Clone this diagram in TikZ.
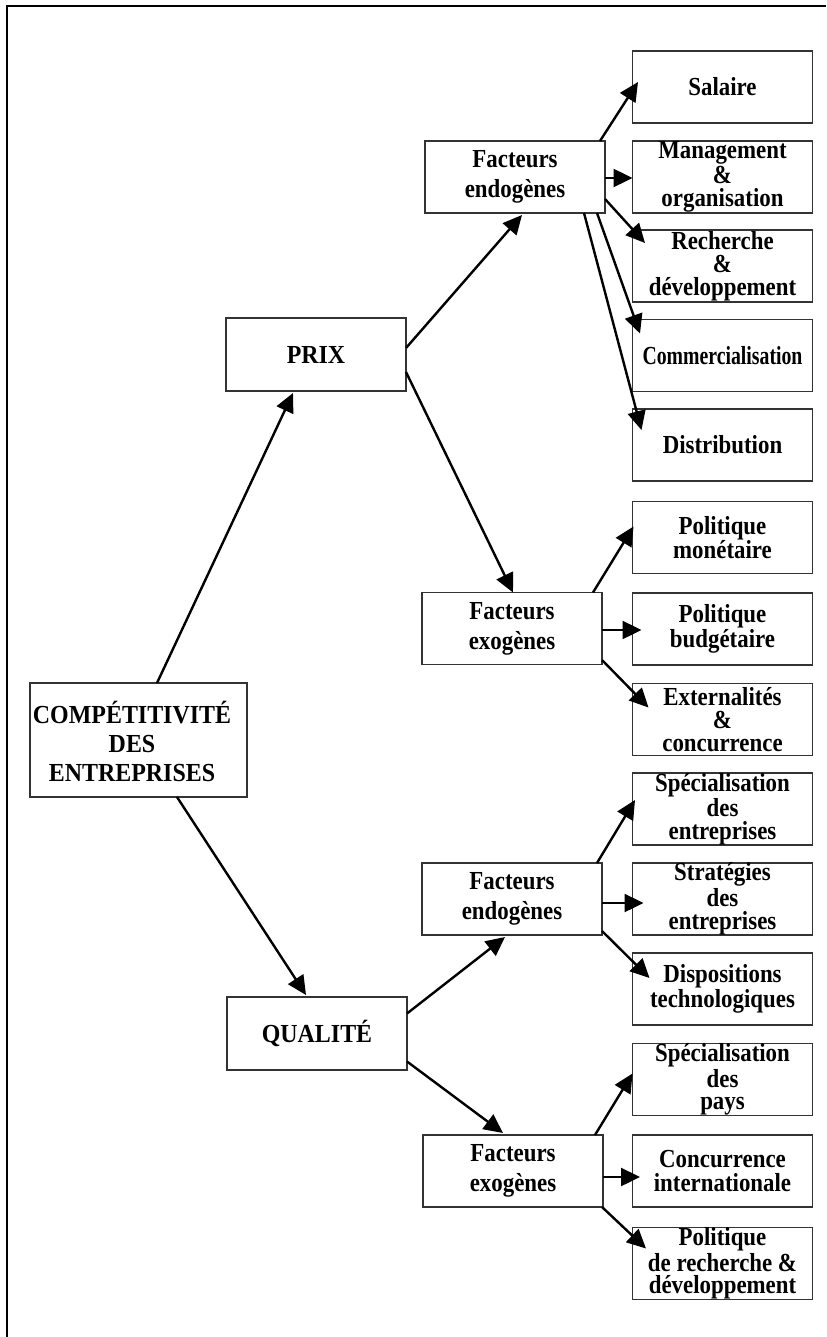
\documentclass[tikz,border=0pt]{standalone}
\usepackage{fontspec}
\setmainfont{Liberation Serif}
\newfontfamily\condf[FakeStretch=0.88]{Liberation Serif}
\newfontfamily\narrowf[FakeStretch=0.76]{Liberation Serif}
\newfontfamily\midf[FakeStretch=0.92]{Liberation Serif}
\usetikzlibrary{arrows.meta,calc}
\begin{document}
\begin{tikzpicture}[x=0.5pt,y=-0.5pt,
  box/.style={draw=black!80, line width=0.7pt, minimum width=90pt, minimum height=36pt,
    inner sep=0pt, outer sep=0pt, align=center,
    font=\condf\fontsize{13}{11.4}\selectfont\bfseries},
  two/.style={font=\condf\fontsize{13}{12.2}\selectfont\bfseries},
  fac/.style={font=\condf\fontsize{13}{15}\selectfont\bfseries},
  big/.style={font=\midf\fontsize{13}{14}\selectfont\bfseries},
  comptext/.style={align=center, inner sep=0pt, font=\midf\fontsize{13}{14.5}\selectfont\bfseries},
  arr/.style={line width=1.2pt, -{Triangle[length=9.5pt,width=9pt]}}]
\useasboundingbox (0,0) rectangle (826,1337);
\draw[line width=0.7pt] (7,1337) -- (7,6) -- (826,6);

% left column
\node[box, minimum width=108.5pt, minimum height=57pt] (comp) at (138.5,740) {};
\node[comptext] (compt) at (132,741) {COMPÉTITIVITÉ\\DES\\ENTREPRISES};
\node[box, big, minimum height=36.5pt] (prix) at (316,354.5) {PRIX};
\node[box, big, minimum height=36.5pt] (qual) at (317,1033.5) {QUALITÉ};

% middle column
\node[box, fac] (fen1) at (515,177) {Facteurs\\endogènes};
\node[box, fac] (fex1) at (512,628.5) {Facteurs\\exogènes};
\node[box, fac] (fen2) at (512,899) {Facteurs\\endogènes};
\node[box, fac] (fex2) at (513,1171) {Facteurs\\exogènes};

% right column
\node[box] (sal) at (722.5,87) {Salaire};
\node[box] (man) at (722.5,177) {Management\\\&\\organisation};
\node[box] (rec) at (722.5,266) {Recherche\\\&\\développement};
\node[box, font=\narrowf\fontsize{13}{11}\selectfont\bfseries] (comm) at (722.5,355.5) {Commercialisation};
\node[box] (dist) at (722.5,445) {Distribution};
\node[box, two] (pmon) at (722.5,537.5) {Politique\\monétaire};
\node[box, two] (pbud) at (722.5,629) {Politique\\budgétaire};
\node[box] (ext) at (722.5,719.5) {Externalités\\\&\\concurrence};
\node[box] (spe) at (722.5,809) {Spécialisation\\des\\entreprises};
\node[box] (strat) at (722.5,899) {Stratégies\\des\\entreprises};
\node[box, two] (disp) at (722.5,989) {Dispositions\\technologiques};
\node[box] (spp) at (722.5,1079.5) {Spécialisation\\des\\pays};
\node[box, two] (conc) at (722.5,1171) {Concurrence\\internationale};
\node[box] (prd) at (722.5,1263.5) {Politique\\de recherche \&\\développement};

% connectors
\draw[arr] ($(comp.north)+(18.5,0)$) -- ($(prix.south)+(-23,2)$);
\draw[arr] ($(comp.south)+(38.5,0)$) -- ($(qual.north)+(-11,-2)$);
\draw[arr] ($(prix.east)+(0,-6.5)$) -- ($(fen1.south)+(7,2)$);
\draw[arr] ($(prix.east)+(0,17.5)$) -- ($(fex1.north)+(1,0)$);
\draw[arr] ($(fen1.north east)+(-5,0)$) -- ($(sal.west)+(5.5,-5)$);
\draw[arr] ($(fen1.east)+(0,1)$) -- ($(man.west)+(0,1)$);
\draw[arr] ($(fen1.east)+(0,22)$) -- ($(rec.north west)+(12.5,13)$);
\draw[arr] ($(fen1.south east)+(-8,0)$) -- ($(comm.north west)+(7.5,14)$);
\draw[arr] ($(fen1.south east)+(-21,0)$) -- ($(dist.north west)+(9,21)$);
\draw[arr] ($(fex1.north east)+(-9,0)$) -- ($(pmon.west)+(1,-11)$);
\draw[arr] ($(fex1.east)+(0,1.5)$) -- ($(pbud.west)+(9,1)$);
\draw[arr] ($(fex1.east)+(0,31.5)$) -- ($(ext.north west)+(16,24)$);
\draw[arr] ($(qual.east)+(0,-20)$) -- ($(fen2.south)+(-7,2)$);
\draw[arr] ($(qual.east)+(0,28)$) -- ($(fex2.north)+(-10,-2)$);
\draw[arr] ($(fen2.north east)+(-5,0)$) -- ($(spe.west)+(2.5,-9)$);
\draw[arr] ($(fen2.east)+(0,4)$) -- ($(strat.west)+(11,4)$);
\draw[arr] ($(fen2.east)+(0,32)$) -- ($(disp.north west)+(17,25)$);
\draw[arr] ($(fex2.north east)+(-8,0)$) -- ($(spp.west)+(0,-6)$);
\draw[arr] ($(fex2.east)+(0,6)$) -- ($(conc.west)+(7.5,6)$);
\draw[arr] ($(fex2.south east)+(-1,0)$) -- ($(prd.north west)+(13.5,21)$);
\end{tikzpicture}
\end{document}
